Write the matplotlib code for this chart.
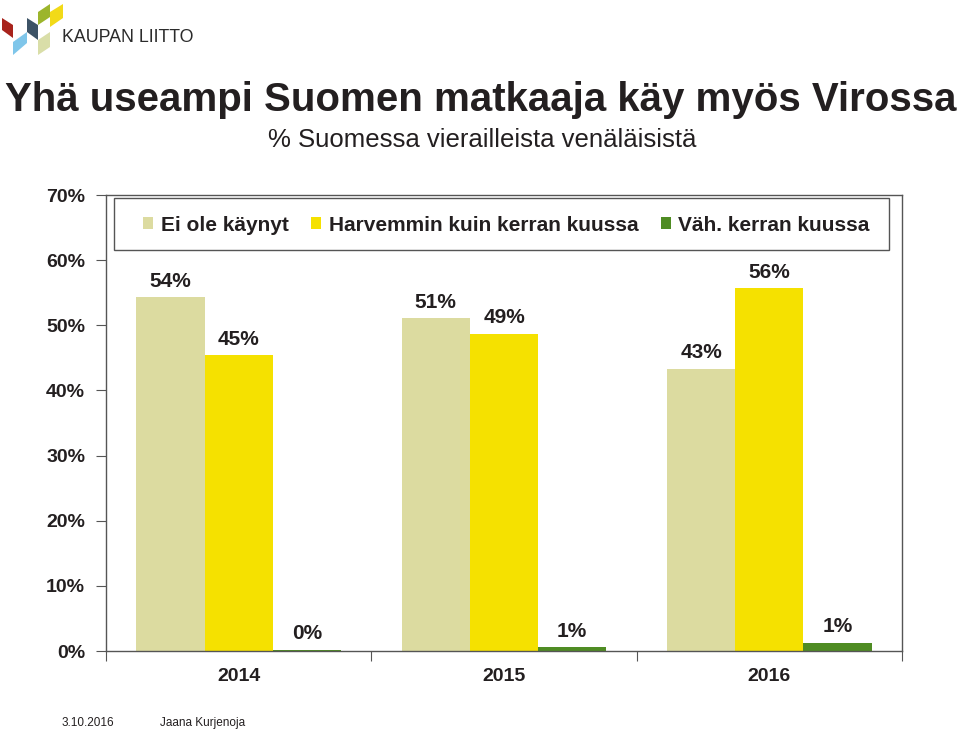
import matplotlib.pyplot as plt
from matplotlib.patches import Polygon, Rectangle
import numpy as np

plt.rcParams['font.family'] = ['Liberation Sans', 'DejaVu Sans']

years = ['2014', '2015', '2016']
series_names = ['Ei ole käynyt', 'Harvemmin kuin kerran kuussa', 'Väh. kerran kuussa']
ei_ole = [54.3, 51.1, 43.3]
harvemmin = [45.4, 48.7, 55.7]
vah_kerran = [0.2, 0.6, 1.3]
bar_labels = [['54%', '51%', '43%'], ['45%', '49%', '56%'], ['0%', '1%', '1%']]

colors = ['#dcdba0', '#f5e100', '#4f8c23']
TEXT = '#231f20'
W, H = 960, 731

fig = plt.figure(figsize=(9.6, 7.31), dpi=100)
ax = fig.add_axes([106 / W, 1 - 651 / H, 796 / W, 456 / H])

x = np.arange(len(years))
bw = 0.257
series = [ei_ole, harvemmin, vah_kerran]
for i, (vals, c, name) in enumerate(zip(series, colors, series_names)):
    xs = x + (i - 1) * bw
    ax.bar(xs, vals, width=bw, color=c, label=name, zorder=2)
    for xx, v, lab in zip(xs, vals, bar_labels[i]):
        ax.annotate(lab, (xx, v), xytext=(0, 11.5), textcoords='offset points',
                    ha='center', va='center', fontsize=15, fontweight='bold', color=TEXT)

ax.set_xlim(-0.5, 2.5)
ax.set_ylim(0, 70)
ax.set_yticks(np.arange(0, 71, 10))
ax.set_yticklabels([f'{v}%' for v in range(0, 71, 10)], fontsize=14, fontweight='bold', color=TEXT)
ax.set_xticks([-0.5, 0.5, 1.5, 2.5])
ax.set_xticklabels([])
ax.set_xticks(x, minor=True)
ax.set_xticklabels(years, minor=True, fontsize=14, fontweight='bold', color=TEXT)
ax.tick_params(axis='x', which='minor', length=0, pad=12)
ax.tick_params(axis='x', which='major', length=7, direction='out', color='#555555')
ax.tick_params(axis='y', length=7, direction='out', color='#555555', pad=8)
for s in ax.spines.values():
    s.set_color('#555555')
    s.set_linewidth(1.0)

# legend box drawn separately so the entries can sit inside it like the original
ax.add_patch(Rectangle((0.01, 0.8794), 0.9736, 0.114, transform=ax.transAxes,
                       fill=False, edgecolor='#555555', lw=1.0, zorder=3))
leg = ax.legend(loc='center left', bbox_to_anchor=(0.0465, 0.934, 0.913, 0.0), mode='expand',
                ncol=3, frameon=False, handlelength=0.5, handleheight=0.5, handletextpad=0.35,
                borderaxespad=0, borderpad=0, prop={'size': 15, 'weight': 'bold'})
for t in leg.get_texts():
    t.set_color(TEXT)

fig.text(481 / W, 1 - 100 / H, 'Yhä useampi Suomen matkaaja käy myös Virossa',
         ha='center', va='center', fontsize=29, fontweight='bold', color=TEXT)
fig.text(482 / W, 1 - 140 / H, '% Suomessa vierailleista venäläisistä',
         ha='center', va='center', fontsize=18.5, color=TEXT)
fig.text(62 / W, 1 - 723 / H, '3.10.2016', ha='left', va='center', fontsize=8.5, color=TEXT)
fig.text(160 / W, 1 - 723 / H, 'Jaana Kurjenoja', ha='left', va='center', fontsize=8.5, color=TEXT)

# logo
logo = fig.add_axes([0, 0, 1, 1], zorder=-1)
logo.set_xlim(0, W)
logo.set_ylim(H, 0)
logo.axis('off')
shapes = [
    ('#a8231c', [(2, 18), (13, 25), (13, 38), (2, 30)]),
    ('#7fc6ea', [(13, 42), (27, 32), (27, 43), (13, 55)]),
    ('#3d5366', [(27, 18), (38, 25), (38, 40), (27, 32)]),
    ('#9cb52c', [(38, 12), (50, 4), (50, 17), (38, 25)]),
    ('#f2da18', [(50, 12), (63, 4), (63, 18), (50, 27)]),
    ('#d9dea8', [(38, 40), (50, 32), (50, 47), (38, 55)]),
]
for c, pts in shapes:
    logo.add_patch(Polygon(pts, closed=True, color=c, lw=0))
logo.text(62, 37, 'KAUPAN LIITTO', ha='left', va='center', fontsize=12.8,
          color='#2b2b2b')

fig.savefig('out.png', dpi=100)
